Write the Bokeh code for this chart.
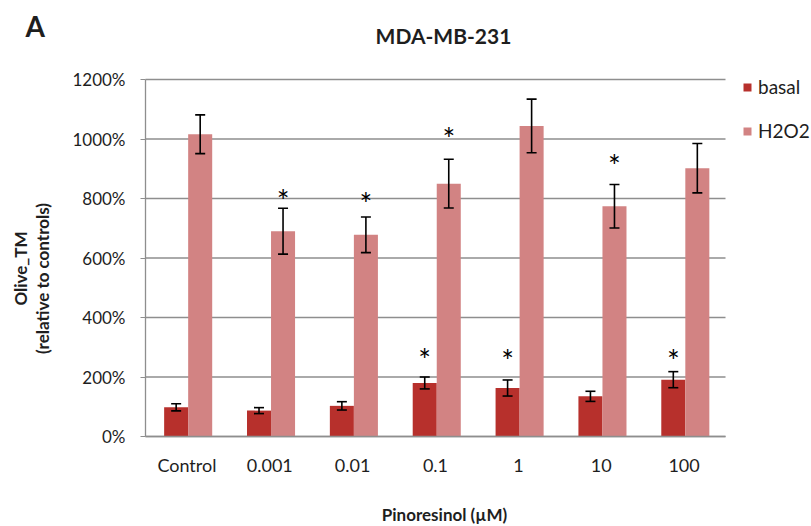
import math
from bokeh.plotting import figure
from bokeh.models import (ColumnDataSource, Range1d, Whisker, TeeHead,
                          Label, Legend, LegendItem, FixedTicker)
from bokeh.core.properties import value
from bokeh.embed import file_html
from bokeh.resources import INLINE

# ---------------- data ----------------
categories = ["Control", "0.001", "0.01", "0.1", "1", "10", "100"]
basal = [98, 87, 103, 180, 163, 135, 191]
basal_err = [12, 10, 14, 20, 27, 17, 27]
h2o2 = [1016, 690, 678, 850, 1044, 774, 902]
h2o2_err = [65, 77, 60, 82, 90, 73, 83]
basal_star = [None, None, None, 283, 281, None, 281]
h2o2_star = [None, 818, 807, 1027, None, 937, None]
y_ticks = [0, 200, 400, 600, 800, 1000, 1200]
y_tick_labels = ["0%", "200%", "400%", "600%", "800%", "1000%", "1200%"]
series_names = ["basal", "H2O2"]

# ---------------- style / layout ----------------
FONT = "Lato"
BASAL_COLOR = "#b7302c"
H2O2_COLOR = "#d28383"
GRID = "#8e8e8e"
TXT = "#1e1e1e"
W, H = 811, 526
AX_L, AX_R, AX_T, AX_B = 145, 725, 79, 436   # plot area in pixels

n = len(categories)
x_pos = list(range(n))
x_lo, x_hi = -0.5, n - 0.5
y_lo, y_hi = y_ticks[0], y_ticks[-1]
kx = (AX_R - AX_L) / (x_hi - x_lo)
ky = (AX_B - AX_T) / (y_hi - y_lo)
x_range = Range1d(x_lo - AX_L / kx, x_hi + (W - AX_R) / kx)
y_range = Range1d(y_lo - (H - AX_B) / ky, y_hi + AX_T / ky)


def px(xp):
    return x_range.start + xp / kx


def py(yp):
    return y_range.end - yp / ky


OFF_B, OFF_H, BW = -0.13, 0.16, 0.29

src = ColumnDataSource(dict(
    xb=[x + OFF_B for x in x_pos],
    xh=[x + OFF_H for x in x_pos],
    basal=basal,
    basal_lo=[v - e for v, e in zip(basal, basal_err)],
    basal_hi=[v + e for v, e in zip(basal, basal_err)],
    h2o2=h2o2,
    h2o2_lo=[v - e for v, e in zip(h2o2, h2o2_err)],
    h2o2_hi=[v + e for v, e in zip(h2o2, h2o2_err)],
))

p = figure(width=W, height=H, x_range=x_range, y_range=y_range, title=None,
           output_backend="svg", toolbar_location=None,
           min_border=0, min_border_left=0, min_border_right=0,
           min_border_top=0, min_border_bottom=0)
p.outline_line_color = None
p.background_fill_color = "white"
p.border_fill_color = "white"
p.grid.visible = False

# horizontal gridlines (from the tick values)
p.segment(x0=[x_lo] * len(y_ticks), x1=[x_hi] * len(y_ticks), y0=y_ticks, y1=y_ticks,
          line_color=GRID, line_width=1.3)

r_basal = p.vbar(x="xb", top="basal", width=BW, source=src,
                 fill_color=BASAL_COLOR, line_color=None)
r_h2o2 = p.vbar(x="xh", top="h2o2", width=BW, source=src,
                fill_color=H2O2_COLOR, line_color=None)

for base, lo, hi in [("xb", "basal_lo", "basal_hi"), ("xh", "h2o2_lo", "h2o2_hi")]:
    w = Whisker(base=base, lower=lo, upper=hi, source=src, level="annotation",
                line_color="black", line_width=1.6,
                upper_head=TeeHead(size=10, line_color="black", line_width=1.6),
                lower_head=TeeHead(size=10, line_color="black", line_width=1.6))
    p.add_layout(w)

# significance asterisks
star_b = ColumnDataSource(dict(
    x=[x + OFF_B for x, s in zip(x_pos, basal_star) if s is not None],
    y=[s for s in basal_star if s is not None]))
star_h = ColumnDataSource(dict(
    x=[x + OFF_H for x, s in zip(x_pos, h2o2_star) if s is not None],
    y=[s for s in h2o2_star if s is not None]))
for s in (star_b, star_h):
    p.text(x="x", y="y", text=value("*"), source=s,
           text_font=value(FONT), text_font_size="30px", text_color="black",
           text_align="center", text_baseline="middle", y_offset=7)

# axes
xa = p.xaxis[0]
ya = p.yaxis[0]
xa.fixed_location = y_lo
ya.fixed_location = x_lo
xa.bounds = (x_lo, x_hi)
ya.bounds = (y_lo, y_hi)
ya.ticker = FixedTicker(ticks=y_ticks)
ya.major_label_overrides = {t: l for t, l in zip(y_ticks, y_tick_labels)}
xa.ticker = FixedTicker(ticks=x_pos)
xa.major_label_overrides = {x: c for x, c in zip(x_pos, categories)}
ya.minor_tick_line_color = None
xa.minor_tick_line_color = None
ya.major_tick_out = 5
ya.major_tick_in = 0
ya.major_tick_line_color = GRID
ya.axis_line_color = GRID
ya.axis_line_width = 1.3
ya.major_label_standoff = 15
xa.axis_line_color = GRID
xa.axis_line_width = 1.3
xa.major_tick_line_color = None
xa.major_label_standoff = 11
ya.major_label_text_font_size = "17px"
xa.major_label_text_font_size = "18px"
for ax in (xa, ya):
    ax.major_label_text_font = FONT
    ax.major_label_text_color = TXT

# legend
legend = Legend(items=[LegendItem(label=series_names[0], renderers=[r_basal]),
                       LegendItem(label=series_names[1], renderers=[r_h2o2])],
                location=(742, 384), orientation="vertical",
                glyph_width=10, glyph_height=10, label_standoff=6, spacing=21,
                label_height=20, padding=0, margin=0, border_line_color=None,
                background_fill_alpha=0,
                label_text_font=FONT, label_text_font_size="19px",
                label_text_color=TXT)
p.add_layout(legend)

# texts
p.add_layout(Label(x=px(25), y=py(25), text="A", text_color=TXT,
                   text_font=FONT, text_font_size="28px", text_font_style="bold",
                   text_align="left", text_baseline="middle"))
p.add_layout(Label(x=px(443), y=py(35), text="MDA-MB-231", text_color=TXT,
                   text_font=FONT, text_font_size="21px", text_font_style="bold",
                   text_align="center", text_baseline="middle"))
p.add_layout(Label(x=px(20), y=py(268), text="Olive_TM", text_color=TXT,
                   text_font=FONT, text_font_size="17px", text_font_style="bold",
                   text_align="center", text_baseline="middle", angle=math.pi / 2))
p.add_layout(Label(x=px(42), y=py(278), text="(relative to controls)", text_color=TXT,
                   text_font=FONT, text_font_size="17px", text_font_style="bold",
                   text_align="center", text_baseline="middle", angle=math.pi / 2))
p.add_layout(Label(x=px(444), y=py(514), text="Pinoresinol (\u00b5M)", text_color=TXT,
                   text_font=FONT, text_font_size="17px", text_font_style="bold",
                   text_align="center", text_baseline="middle"))

open("out.html", "w").write(file_html(p, INLINE))
